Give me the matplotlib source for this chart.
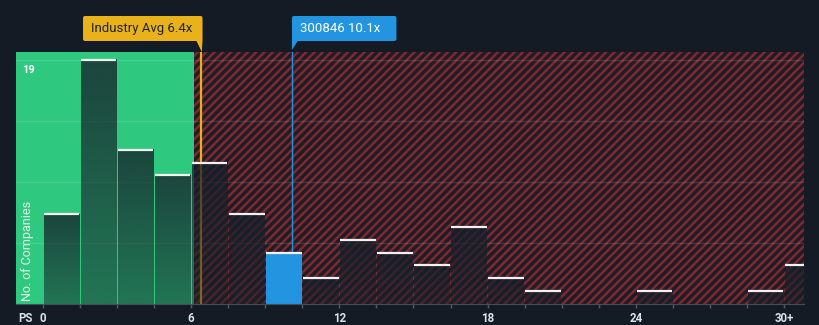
import matplotlib.pyplot as plt
import matplotlib.colors as mcolors
from matplotlib.patches import Polygon, FancyBboxPatch
from matplotlib.transforms import IdentityTransform
import numpy as np

plt.rcParams['font.family'] = ['Roboto', 'DejaVu Sans']
plt.rcParams['hatch.linewidth'] = 1.8

# histogram of P/S ratios, bins of 1.5x
bin_width = 1.5
counts = [7, 19, 12, 10, 11, 7, 4, 2, 5, 4, 3, 6, 2, 1, 0, 0, 1, 0, 0, 1, 3]
industry_avg = 6.4
company_ps = 10.1
company_name = "300846"
fair_limit = 6.1
tick_vals = [0, 6, 12, 18, 24, 30]
tick_labels = ["0", "6", "12", "18", "24", "30+"]
grid_vals = [4.75, 9.5, 14.25, 19]
y_top_label = "19"

W, H = 820, 325
bg = '#151b24'
fig = plt.figure(figsize=(W / 100, H / 100), dpi=100, facecolor=bg)
ax = fig.add_axes([16 / W, 21 / H, 788 / W, 252 / H])
ax.set_facecolor(bg)
xlim = (-1.09, 30.81)
ylim = (0, 19.6)

# green "good value" zone and red hatched zone
ax.axvspan(xlim[0], fair_limit, color='#2ec97f', lw=0, zorder=0)
ax.axvspan(fair_limit, xlim[1], facecolor='#211b24', edgecolor='#7b2a33',
           hatch='////', lw=0, zorder=0)

for g in grid_vals:
    ax.axhline(g, color='white', alpha=0.12, lw=1, zorder=1)

ax.axvline(industry_avg, color='#e8b019', lw=1.6, zorder=1.5)
ax.axvline(company_ps, color='#2394df', lw=1, zorder=1.5)

shade = mcolors.to_rgb('#16202a')
for i, c in enumerate(counts):
    if c == 0:
        continue
    x0 = i * bin_width + 0.03
    x1 = x0 + bin_width - 0.06
    if x0 <= company_ps < x0 + bin_width:
        ax.bar(x0, c, width=x1 - x0, align='edge', color='#2394df', lw=0, zorder=2)
    else:
        grad = np.zeros((60, 1, 4))
        grad[..., :3] = shade
        grad[:, 0, 3] = np.linspace(0.5, 0.78, 60)
        ax.imshow(grad, extent=[x0, x1, 0, c], aspect='auto', origin='lower',
                  interpolation='bilinear', zorder=2)
    ax.plot([x0, x1], [c, c], color='#f2f2f2', lw=1.6, zorder=4,
            solid_capstyle='butt')

ax.set_xlim(*xlim)
ax.set_ylim(*ylim)
ax.set_yticks([])
ax.set_xticks(tick_vals)
ax.set_xticklabels(tick_labels, fontweight='semibold')
ax.set_xticks(np.arange(0, 31, bin_width), minor=True)
ax.tick_params(axis='x', which='both', length=2.6, color='#555b63', width=1,
               labelcolor='#dfe2e6', labelsize=8.3, pad=3.2)
for s in ['top', 'right', 'left']:
    ax.spines[s].set_visible(False)
ax.spines['bottom'].set_color('#474d55')

ax.text(0.008, 0.93, y_top_label, transform=ax.transAxes, color='white',
        fontsize=8, fontweight='bold', va='center', ha='left')
ax.text(0.014, 0.21, "No. of Companies", transform=ax.transAxes, color='#e8f3ee',
        fontsize=9, rotation=90, va='center', ha='center')
fig.text(25 / W, (H - 319) / H, "PS", color='#dfe2e6', fontsize=8.3,
         va='center', ha='center', fontweight='semibold')

# callout boxes (pixel coords, y measured from top)
ident = IdentityTransform()


def box(left, right, top, bottom, tail, color, text, tcolor):
    p = FancyBboxPatch((left, H - bottom), right - left, bottom - top,
                       boxstyle='round,pad=0,rounding_size=2',
                       transform=ident, color=color, lw=0)
    fig.patches.append(p)
    tri = Polygon([(x, H - y) for x, y in tail], closed=True, transform=ident,
                  color=color, lw=0)
    fig.patches.append(tri)
    fig.text(left + 8, H - (top + bottom) / 2, text, transform=ident,
             color=tcolor, fontsize=9.5, va='center', ha='left')


xi = ax.transData.transform((industry_avg, 0))[0]
xb = ax.transData.transform((company_ps, 0))[0]
box(xi - 118, xi + 1.5, 16, 41, [(xi - 5, 40), (xi + 1.5, 40), (xi + 0.8, 52)],
    '#e9b21a', f"Industry Avg {industry_avg}x", '#1e2530')
box(xb - 0.5, xb + 104, 16, 41, [(xb - 0.5, 40), (xb + 6, 40), (xb - 0.5, 50)],
    '#2394df', f"{company_name} {company_ps}x", 'white')

fig.savefig('out.png', dpi=100, facecolor=bg)
